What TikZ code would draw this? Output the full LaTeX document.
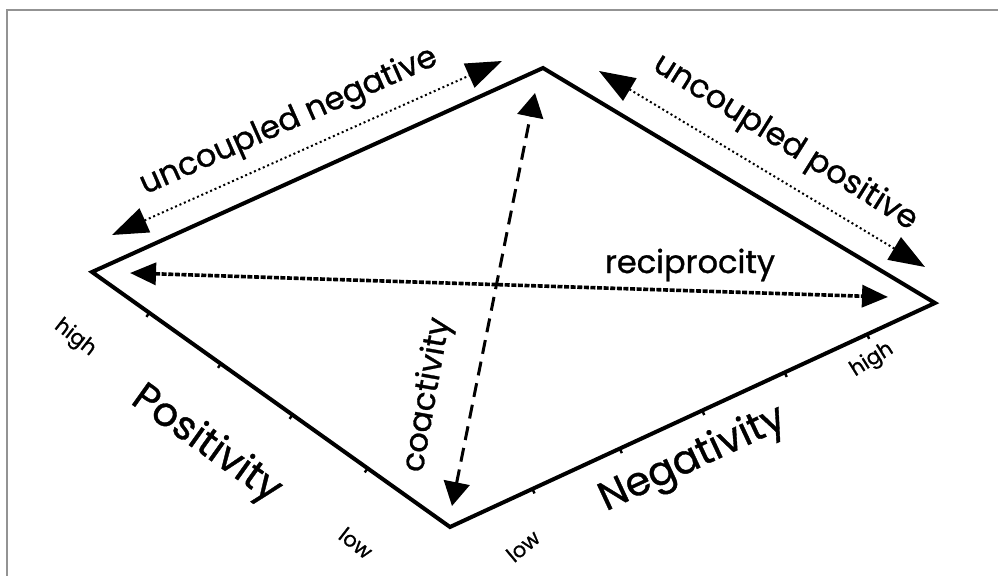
\documentclass[tikz,border=0pt]{standalone}
\usepackage{fontspec}
\setmainfont{Poppins}
\newfontfamily\labelfont{Poppins}[FakeBold=0.9]
\usepackage{tikz}
\usetikzlibrary{arrows.meta,calc,positioning}

\begin{document}
\begin{tikzpicture}[
    x=0.5pt, y=-0.5pt,
    axisline/.style={line width=2pt, line join=miter},
    axistick/.style={line width=1.2pt},
    sidearrow/.style={{Triangle[length=18pt,width=13pt]}-{Triangle[length=18pt,width=13pt]}, line width=1pt, dash pattern=on 1pt off 1.4pt},
    reciparrow/.style={{Triangle[length=13pt,width=11pt]}-{Triangle[length=13pt,width=11pt]}, line width=1.8pt, dash pattern=on 2.5pt off 0.8pt},
    coarrow/.style={{Triangle[length=12pt,width=13pt]}-{Triangle[length=12pt,width=13pt]}, line width=1.5pt, dash pattern=on 7pt off 4pt},
    mylabel/.style={inner sep=0pt, font=\labelfont\fontsize{16}{18}\selectfont},
    axislabel/.style={inner sep=0pt, font=\labelfont\fontsize{20}{22}\selectfont},
    endlabel/.style={inner sep=0pt, font=\labelfont\fontsize{10.5}{12}\selectfont}
]
\useasboundingbox[fill=white] (0,0) rectangle (998,576);
\draw[gray!85, line width=1pt] (7,576) -- (7,10) -- (998,10);

% corners of the diamond
\coordinate (L) at (92,272);
\coordinate (T) at (543,68);
\coordinate (R) at (935,303);
\coordinate (B) at (450,527);
\draw[axisline] (L) -- (T) -- (R) -- (B) -- cycle;

\foreach \t in {0.16,0.36,0.56,0.77}
    \draw[axistick] ($(L)!\t!(B)$) -- ($(L)!\t!(B)!2.5pt!-90:(B)$);
\foreach \t in {0.17,0.35,0.52,0.69,0.86}
    \draw[axistick] ($(B)!\t!(R)$) -- ($(B)!\t!(R)!2.5pt!-90:(R)$);

% arrow ends
\coordinate (negA) at (112,235);
\coordinate (negB) at (502,61);
\coordinate (posA) at (599,71);
\coordinate (posB) at (925,267);
\coordinate (recA) at (130,273);
\coordinate (recB) at (888,297);
\coordinate (coB) at (452,506);
\coordinate (coT) at (535,93);

\draw[sidearrow] (negA) -- (negB);
\draw[sidearrow] (posA) -- (posB);
\draw[reciparrow] (recA) -- (recB);
\draw[coarrow] (coB) -- (coT);

\node[mylabel, rotate=24] (negtext) at (289,122) {uncoupled negative};
\node[mylabel, rotate=-32] (postext) at (785,143) {uncoupled positive};
\node[mylabel] (rectext) at (690,265) {reciprocity};
\node[mylabel, rotate=80] (cotext) at (428,395) {coactivity};

\node[axislabel, rotate=-35.5] (pos) at (206,445) {Positivity};
\node[axislabel, rotate=25] (neg) at (693,460) {Negativity};

\node[endlabel, rotate=-38] (poshigh) at (75,338) {high};
\node[endlabel, rotate=-38] (poslow) at (356,543) {low};
\node[endlabel, rotate=40] (neglow) at (523,546) {low};
\node[endlabel, rotate=32] (neghigh) at (872,360) {high};
\end{tikzpicture}
\end{document}
